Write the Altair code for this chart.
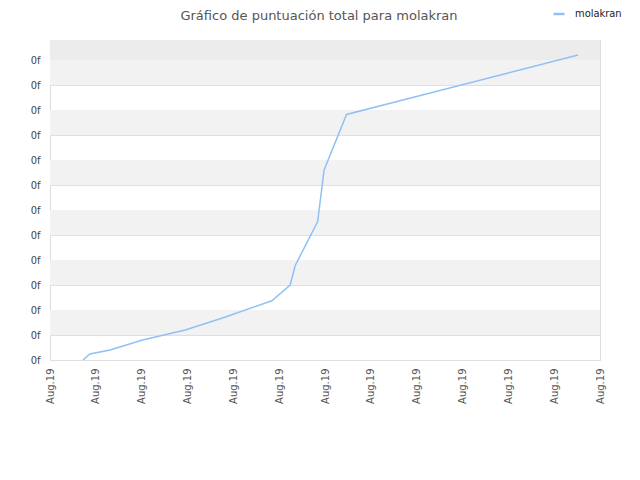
import altair as alt
import pandas as pd

# Line data (x in tick-steps along the date axis, y in grid steps)
xs = [0.72, 0.87, 1.31, 2.02, 2.95, 3.78, 4.84, 5.24, 5.35, 5.84, 5.98, 6.47, 11.52]
ys = [0.0, 0.24, 0.40, 0.80, 1.20, 1.69, 2.37, 3.0, 3.78, 5.54, 7.6, 9.82, 12.2]
series = "molakran"

x_ticks = list(range(13))
x_labels = ["Aug.19"] * 13
y_ticks = list(range(13))
y_labels = ["0f"] * 13

title = "Gráfico de puntuación total para molakran"

line_df = pd.DataFrame({"x": xs, "y": ys, "serie": [series] * len(xs)})

band_lo = [1, 3, 5, 7, 9, 11]
band_df = pd.DataFrame({"y": band_lo, "y2": [b + 1 for b in band_lo]})
top_df = pd.DataFrame({"y": [12], "y2": [12.8]})

xs_scale = alt.Scale(domain=[0, 12], nice=False, zero=False)
ys_scale = alt.Scale(domain=[0, 12.8], nice=False, zero=False)

y_axis = alt.Axis(values=y_ticks, labelExpr="'" + y_labels[0] + "'", ticks=False,
                  grid=True, gridColor="#e0e0e0", domain=False,
                  labelFont="DejaVu Sans Condensed", labelFontSize=11,
                  labelColor="#444444", labelPadding=10)
x_axis = alt.Axis(values=x_ticks, labelExpr="'" + x_labels[0] + "'", labelAngle=270,
                  labelAlign="right", labelBaseline="middle",
                  ticks=False, grid=False, domain=False,
                  labelFont="DejaVu Sans", labelFontSize=10,
                  labelColor="#555555", labelPadding=8)

bands = alt.Chart(band_df).mark_rect(color="#f2f2f2").encode(
    x=alt.value(0), x2=alt.value(550),
    y=alt.Y("y:Q", scale=ys_scale, axis=y_axis, title=None),
    y2="y2:Q",
)
top = alt.Chart(top_df).mark_rect(color="#ececec").encode(
    x=alt.value(0), x2=alt.value(550),
    y=alt.Y("y:Q", scale=ys_scale, axis=y_axis, title=None),
    y2="y2:Q",
)

line = alt.Chart(line_df).mark_line(strokeWidth=1.5).encode(
    x=alt.X("x:Q", scale=xs_scale, title=None, axis=x_axis),
    y=alt.Y("y:Q", scale=ys_scale, title=None, axis=y_axis),
    color=alt.Color("serie:N", scale=alt.Scale(range=["#8ec1f4"]), title=None,
                    legend=alt.Legend(orient="none", legendX=502, legendY=-33,
                                      symbolType="stroke", symbolSize=120,
                                      symbolStrokeWidth=2.5,
                                      labelFont="DejaVu Sans Condensed",
                                      labelFontSize=11, labelColor="#222222",
                                      labelOffset=9)),
)

chart = alt.layer(top, bands, line).properties(
    width=550, height=320,
    title=alt.TitleParams(title, font="DejaVu Sans", fontSize=13, fontWeight="normal",
                          color="#555555", offset=-16, dx=-6),
    autosize=alt.AutoSizeParams(type="none"),
    padding={"left": 42, "top": 32, "right": 32, "bottom": 112},
).configure_view(stroke="#dddddd").configure(background="white")

chart.save("out.html", embed_options={"renderer": "svg", "actions": False})
